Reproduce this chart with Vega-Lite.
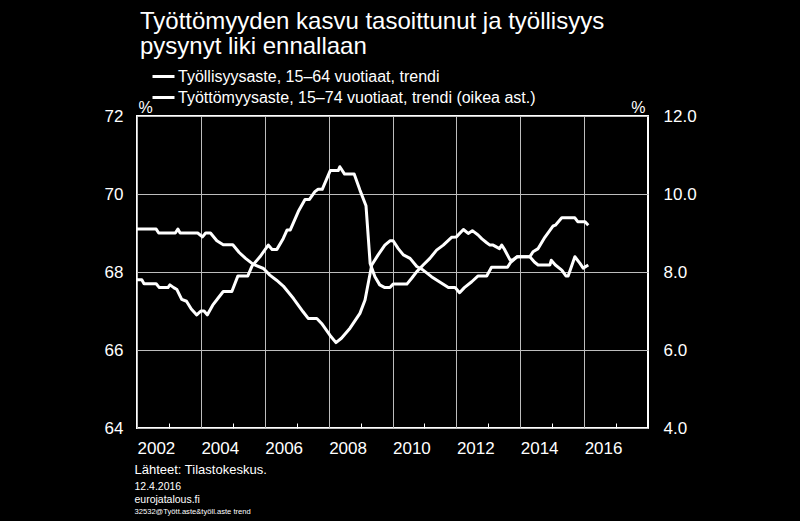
{
  "$schema": "https://vega.github.io/schema/vega-lite/v6.json",
  "autosize": {"type": "none"},
  "width": 511,
  "height": 312,
  "padding": {"left": 137, "top": 116, "right": 152, "bottom": 93},
  "background": "black",
  "config": {
    "view": {"stroke": "white", "strokeWidth": 2},
    "font": "Liberation Sans",
    "axis": {
      "labelColor": "white",
      "titleColor": "white",
      "labelFont": "Liberation Sans",
      "titleFont": "Liberation Sans",
      "titleFontWeight": "normal",
      "gridColor": "#bdbdbd",
      "gridWidth": 1,
      "gridOpacity": 1,
      "domain": false,
      "ticks": false,
      "labelFontSize": 17
    },
    "legend": {
      "labelColor": "white",
      "labelFont": "Liberation Sans",
      "labelFontSize": 16,
      "labelLimit": 0
    }
  },
  "title": {
    "text": ["Työttömyyden kasvu tasoittunut ja työllisyys", "pysynyt liki ennallaan"],
    "anchor": "start",
    "frame": "group",
    "fontSize": 24,
    "fontWeight": "normal",
    "font": "Liberation Sans",
    "color": "white",
    "lineHeight": 25,
    "dx": 3,
    "dy": -1
  },
  "datasets": {
    "emp": [
      {"t": 2002.00, "v": 67.80}, {"t": 2002.15, "v": 67.80}, {"t": 2002.22, "v": 67.70}, {"t": 2002.60, "v": 67.70},
      {"t": 2002.70, "v": 67.60}, {"t": 2002.97, "v": 67.60}, {"t": 2003.03, "v": 67.67}, {"t": 2003.15, "v": 67.60},
      {"t": 2003.25, "v": 67.55}, {"t": 2003.40, "v": 67.30}, {"t": 2003.55, "v": 67.25}, {"t": 2003.70, "v": 67.05},
      {"t": 2003.87, "v": 66.90}, {"t": 2004.00, "v": 67.00}, {"t": 2004.10, "v": 67.00}, {"t": 2004.20, "v": 66.90},
      {"t": 2004.37, "v": 67.15}, {"t": 2004.53, "v": 67.32}, {"t": 2004.70, "v": 67.50}, {"t": 2004.97, "v": 67.50},
      {"t": 2005.16, "v": 67.90}, {"t": 2005.47, "v": 67.90}, {"t": 2005.60, "v": 68.15}, {"t": 2005.85, "v": 68.39},
      {"t": 2006.11, "v": 68.69}, {"t": 2006.23, "v": 68.58}, {"t": 2006.38, "v": 68.58}, {"t": 2006.58, "v": 68.86},
      {"t": 2006.70, "v": 69.08}, {"t": 2006.80, "v": 69.08}, {"t": 2007.05, "v": 69.55}, {"t": 2007.26, "v": 69.86},
      {"t": 2007.40, "v": 69.86}, {"t": 2007.57, "v": 70.06}, {"t": 2007.67, "v": 70.12}, {"t": 2007.80, "v": 70.12},
      {"t": 2008.05, "v": 70.60}, {"t": 2008.30, "v": 70.60}, {"t": 2008.35, "v": 70.70}, {"t": 2008.50, "v": 70.51},
      {"t": 2008.80, "v": 70.51}, {"t": 2008.98, "v": 70.10}, {"t": 2009.17, "v": 69.70}, {"t": 2009.30, "v": 68.22},
      {"t": 2009.45, "v": 67.88}, {"t": 2009.60, "v": 67.67}, {"t": 2009.76, "v": 67.60}, {"t": 2009.92, "v": 67.60},
      {"t": 2010.02, "v": 67.69}, {"t": 2010.45, "v": 67.69}, {"t": 2010.60, "v": 67.84}, {"t": 2010.76, "v": 68.01},
      {"t": 2010.96, "v": 68.18}, {"t": 2011.17, "v": 68.35}, {"t": 2011.38, "v": 68.56}, {"t": 2011.59, "v": 68.69},
      {"t": 2011.85, "v": 68.89}, {"t": 2012.00, "v": 68.90}, {"t": 2012.22, "v": 69.09}, {"t": 2012.37, "v": 68.99},
      {"t": 2012.50, "v": 69.06}, {"t": 2012.68, "v": 68.95}, {"t": 2012.80, "v": 68.85}, {"t": 2012.95, "v": 68.75},
      {"t": 2013.05, "v": 68.69}, {"t": 2013.15, "v": 68.69}, {"t": 2013.35, "v": 68.60}, {"t": 2013.42, "v": 68.69},
      {"t": 2013.50, "v": 68.59}, {"t": 2013.68, "v": 68.31}, {"t": 2013.77, "v": 68.31}, {"t": 2013.90, "v": 68.39},
      {"t": 2014.30, "v": 68.39}, {"t": 2014.45, "v": 68.25}, {"t": 2014.56, "v": 68.18}, {"t": 2014.93, "v": 68.18},
      {"t": 2014.97, "v": 68.30}, {"t": 2015.10, "v": 68.18}, {"t": 2015.30, "v": 68.05}, {"t": 2015.43, "v": 67.90},
      {"t": 2015.50, "v": 67.90}, {"t": 2015.71, "v": 68.39}, {"t": 2015.87, "v": 68.22}, {"t": 2015.97, "v": 68.10},
      {"t": 2016.13, "v": 68.18}
    ],
    "unemp": [
      {"t": 2002.00, "v": 9.10}, {"t": 2002.60, "v": 9.10}, {"t": 2002.68, "v": 9.00}, {"t": 2003.20, "v": 9.00},
      {"t": 2003.28, "v": 9.10}, {"t": 2003.35, "v": 9.00}, {"t": 2003.90, "v": 9.00}, {"t": 2004.05, "v": 8.90},
      {"t": 2004.15, "v": 9.00}, {"t": 2004.30, "v": 9.00}, {"t": 2004.50, "v": 8.80}, {"t": 2004.70, "v": 8.70},
      {"t": 2005.00, "v": 8.70}, {"t": 2005.20, "v": 8.50}, {"t": 2005.40, "v": 8.35}, {"t": 2005.63, "v": 8.20},
      {"t": 2005.96, "v": 8.09}, {"t": 2006.16, "v": 7.92}, {"t": 2006.37, "v": 7.79}, {"t": 2006.58, "v": 7.64},
      {"t": 2006.90, "v": 7.32}, {"t": 2007.20, "v": 6.98}, {"t": 2007.36, "v": 6.81}, {"t": 2007.63, "v": 6.81},
      {"t": 2007.78, "v": 6.68}, {"t": 2008.04, "v": 6.38}, {"t": 2008.23, "v": 6.19}, {"t": 2008.40, "v": 6.30},
      {"t": 2008.67, "v": 6.56}, {"t": 2008.98, "v": 6.94}, {"t": 2009.14, "v": 7.28}, {"t": 2009.20, "v": 7.54},
      {"t": 2009.35, "v": 8.18}, {"t": 2009.55, "v": 8.44}, {"t": 2009.76, "v": 8.69}, {"t": 2009.92, "v": 8.80},
      {"t": 2010.02, "v": 8.80}, {"t": 2010.18, "v": 8.60}, {"t": 2010.34, "v": 8.44}, {"t": 2010.55, "v": 8.35},
      {"t": 2010.76, "v": 8.14}, {"t": 2010.96, "v": 8.05}, {"t": 2011.22, "v": 7.88}, {"t": 2011.54, "v": 7.71},
      {"t": 2011.75, "v": 7.60}, {"t": 2011.96, "v": 7.60}, {"t": 2012.10, "v": 7.47}, {"t": 2012.25, "v": 7.60},
      {"t": 2012.48, "v": 7.75}, {"t": 2012.68, "v": 7.90}, {"t": 2012.95, "v": 7.90}, {"t": 2013.10, "v": 8.12},
      {"t": 2013.60, "v": 8.12}, {"t": 2013.70, "v": 8.25}, {"t": 2013.90, "v": 8.39}, {"t": 2014.30, "v": 8.39},
      {"t": 2014.40, "v": 8.52}, {"t": 2014.56, "v": 8.60}, {"t": 2014.77, "v": 8.89}, {"t": 2015.03, "v": 9.18},
      {"t": 2015.10, "v": 9.20}, {"t": 2015.30, "v": 9.39}, {"t": 2015.71, "v": 9.39}, {"t": 2015.80, "v": 9.29},
      {"t": 2016.03, "v": 9.29}, {"t": 2016.13, "v": 9.20}
    ],
    "none": []
  },
  "layer": [
    {
      "data": {"name": "emp"},
      "mark": {"type": "line", "color": "white", "strokeWidth": 3, "strokeJoin": "round"},
      "encoding": {
        "x": {
          "field": "t", "type": "quantitative",
          "scale": {"domain": [2002, 2018], "nice": false, "zero": false},
          "axis": {
            "orient": "bottom",
            "values": [2002, 2004, 2006, 2008, 2010, 2012, 2014, 2016],
            "format": "d",
            "labelAlign": "left",
            "labelBaseline": "top",
            "labelPadding": 12,
            "labelFlush": false,
            "labelOverlap": false,
            "grid": true,
            "title": "Lähteet:  Tilastokeskus.",
            "titleFontSize": 13,
            "titleAlign": "left",
            "titleAnchor": "start",
            "titleBaseline": "alphabetic",
            "titleX": -3,
            "titleY": 45
          }
        },
        "y": {
          "field": "v", "type": "quantitative",
          "scale": {"domain": [64, 72], "nice": false, "zero": false},
          "axis": {
            "orient": "left",
            "values": [64, 66, 68, 70, 72],
            "grid": true,
            "labelPadding": 14,
            "title": "%",
            "titleAngle": 0,
            "titleAlign": "left",
            "titleBaseline": "alphabetic",
            "titleFontSize": 16,
            "titleX": 1,
            "titleY": -4
          }
        },
        "color": {
          "datum": "Työllisyysaste, 15–64 vuotiaat, trendi",
          "type": "nominal",
          "scale": {
            "domain": ["Työllisyysaste, 15–64 vuotiaat, trendi", "Työttömyysaste, 15–74 vuotiaat, trendi (oikea ast.)"],
            "range": ["white", "white"]
          },
          "legend": {
            "title": null,
            "orient": "none",
            "legendX": 14,
            "legendY": -52,
            "padding": 0,
            "symbolType": "stroke",
            "symbolSize": 484,
            "symbolStrokeWidth": 3,
            "symbolStrokeColor": "white",
            "labelOffset": 2,
            "labelLimit": 0,
            "rowPadding": 0
          }
        }
      }
    },
    {
      "data": {"name": "unemp"},
      "mark": {"type": "line", "color": "white", "strokeWidth": 3, "strokeJoin": "round"},
      "encoding": {
        "x": {
          "field": "t", "type": "quantitative",
          "axis": {
            "orient": "bottom",
            "values": [2003, 2005, 2007, 2009, 2011, 2013, 2015, 2017],
            "labels": false,
            "grid": false,
            "ticks": true,
            "tickSize": -5,
            "tickColor": "white",
            "tickWidth": 1,
            "title": ["12.4.2016", "eurojatalous.fi"],
            "titleFontSize": 10.5,
            "titleLineHeight": 13,
            "titleAlign": "left",
            "titleAnchor": "start",
            "titleBaseline": "alphabetic",
            "titleX": -3,
            "titleY": 61
          }
        },
        "y": {
          "field": "v", "type": "quantitative",
          "scale": {"domain": [4, 12], "nice": false, "zero": false},
          "axis": {
            "orient": "right",
            "values": [4, 6, 8, 10, 12],
            "format": ".1f",
            "grid": false,
            "labelPadding": 15,
            "title": "%",
            "titleAngle": 0,
            "titleAlign": "right",
            "titleBaseline": "alphabetic",
            "titleFontSize": 16,
            "titleX": -3,
            "titleY": -4
          }
        },
        "color": {"datum": "Työttömyysaste, 15–74 vuotiaat, trendi (oikea ast.)", "type": "nominal"}
      }
    },
    {
      "data": {"name": "none"},
      "mark": {"type": "point"},
      "encoding": {
        "x": {
          "field": "t", "type": "quantitative",
          "axis": {
            "orient": "bottom",
            "values": [],
            "labels": false,
            "grid": false,
            "title": "32532@Tyött.aste&työll.aste trend",
            "titleFontSize": 7.6,
            "titleAlign": "left",
            "titleAnchor": "start",
            "titleBaseline": "alphabetic",
            "titleX": -3,
            "titleY": 85
          }
        }
      }
    }
  ],
  "resolve": {"scale": {"y": "independent"}, "axis": {"x": "independent"}}
}
